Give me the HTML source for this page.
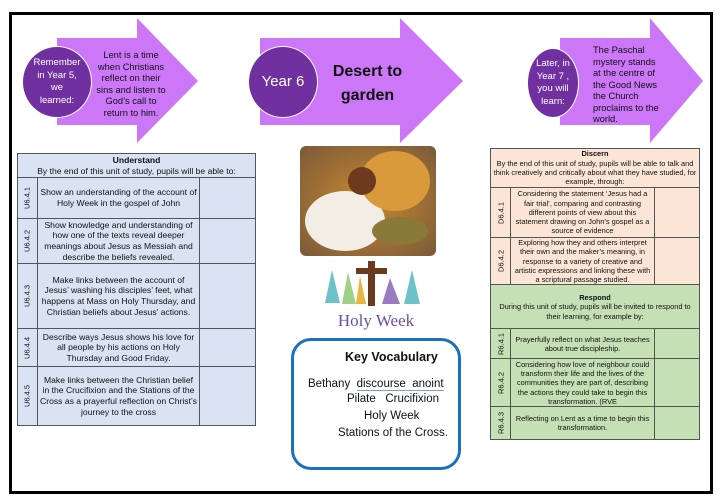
<!DOCTYPE html>
<html><head><meta charset="utf-8"><style>
*{margin:0;padding:0;box-sizing:border-box}
body{width:720px;height:502px;background:#fff;position:relative;overflow:hidden;font-family:"Liberation Sans",sans-serif;color:#111}
.a{position:absolute}
.circ{position:absolute;background:#7030a0;border:1px solid #fff;border-radius:50%;color:#fff;display:flex;align-items:center;justify-content:center;text-align:center;font-size:9.5px;line-height:12.5px}
.t{font-size:9.3px;line-height:11.5px}
table{border-collapse:collapse;position:absolute;font-size:8.6px;line-height:10.6px;text-align:center;table-layout:fixed}
td{border:1px solid #555;padding:0 2px;vertical-align:middle}
.code{padding:0;position:relative}
.code span{position:absolute;left:50%;top:50%;transform:translate(-50%,-50%) rotate(-90deg);white-space:nowrap;font-size:7.5px}
</style></head><body>
<div class="a" style="left:9px;top:12px;width:704px;height:482px;border:3px solid #000"></div>
<svg class="a" style="left:0;top:0" width="720" height="160">
<polygon points="57,38 137,38 137,18 198,81 137,143 137,125 57,125" fill="#cc77f7"/>
<polygon points="260,38 400,38 400,18 463,81 400,143 400,125 260,125" fill="#cc77f7"/>
<polygon points="560,38 650,38 650,18 703,81 650,143 650,125 560,125" fill="#cc77f7"/>
</svg>
<div class="circ" style="left:22px;top:46px;width:70px;height:72px">Remember<br>in Year 5,<br>we<br>learned:</div>
<div class="a t" style="left:94px;top:50px;width:74px;text-align:center">Lent is a time when Christians reflect on their sins and listen to God’s call to return to him.</div>
<div class="circ" style="left:248px;top:46px;width:70px;height:72px;font-size:15px">Year 6</div>
<div class="a" style="left:330px;top:60px;width:75px;text-align:center;font-weight:bold;font-size:16px;line-height:24px">Desert to garden</div>
<div class="circ" style="left:527px;top:48px;width:52px;height:70px;font-size:9.5px">Later, in<br>Year 7 ,<br>you will<br>learn:</div>
<div class="a t" style="left:593px;top:45px;width:72px">The Paschal mystery stands at the centre of the Good News the Church proclaims to the world.</div>

<table style="left:17px;top:153px;width:239px;background:#dae3f3">
<colgroup><col style="width:20px"><col style="width:162px"><col></colgroup>
<tr style="height:24px"><td colspan="3"><b>Understand</b><br>By the end of this unit of study, pupils will be able to:</td></tr>
<tr style="height:41px"><td class="code"><span>U6.4.1</span></td><td>Show an understanding of the account of Holy Week in the gospel of John</td><td></td></tr>
<tr style="height:45px"><td class="code"><span>U6.4.2</span></td><td>Show knowledge and understanding of how one of the texts reveal deeper meanings about Jesus as Messiah and describe the beliefs revealed.</td><td></td></tr>
<tr style="height:65px"><td class="code"><span>U6.4.3</span></td><td>Make links between the account of Jesus’ washing his disciples’ feet, what happens at Mass on Holy Thursday, and Christian beliefs about Jesus’ actions.</td><td></td></tr>
<tr style="height:38px"><td class="code"><span>U6.4.4</span></td><td>Describe ways Jesus shows his love for all people by his actions on Holy Thursday and Good Friday.</td><td></td></tr>
<tr style="height:59px"><td class="code"><span>U6.4.5</span></td><td>Make links between the Christian belief in the Crucifixion and the Stations of the Cross as a prayerful reflection on Christ’s journey to the cross</td><td></td></tr>
</table>

<table style="left:490px;top:148px;width:210px;font-size:7.4px;line-height:9.3px">
<colgroup><col style="width:20px"><col style="width:144px"><col></colgroup>
<tr style="height:39px;background:#fbe5d6"><td colspan="3"><b>Discern</b><br>By the end of this unit of study, pupils will be able to talk and think creatively and critically about what they have studied, for example, through:</td></tr>
<tr style="height:50px;background:#fbe5d6"><td class="code"><span>D6.4.1</span></td><td>Considering the statement ‘Jesus had a fair trial’, comparing and contrasting different points of view about this statement drawing on John’s gospel as a source of evidence</td><td></td></tr>
<tr style="height:46px;background:#fbe5d6"><td class="code"><span>D6.4.2</span></td><td>Exploring how they and others interpret their own and the maker’s meaning, in response to a variety of creative and artistic expressions and linking these with a scriptural passage studied.</td><td></td></tr>
<tr style="height:44px;background:#c5e0b4"><td colspan="3"><b>Respond</b><br>During this unit of study, pupils will be invited to respond to their learning, for example by:</td></tr>
<tr style="height:30px;background:#c5e0b4"><td class="code"><span>R6.4.1</span></td><td>Prayerfully reflect on what Jesus teaches about true discipleship.</td><td></td></tr>
<tr style="height:48px;background:#c5e0b4"><td class="code"><span>R6.4.2</span></td><td>Considering how love of neighbour could transform their life and the lives of the communities they are part of, describing the actions they could take to begin this transformation. (RVE</td><td></td></tr>
<tr style="height:33px;background:#c5e0b4"><td class="code"><span>R6.4.3</span></td><td>Reflecting on Lent as a time to begin this transformation.</td><td></td></tr>
</table>

<svg class="a" style="left:300px;top:146px" width="136" height="110">
<defs><radialGradient id="g" cx="0.5" cy="0.5" r="0.7"><stop offset="0" stop-color="#c9892f"/><stop offset="1" stop-color="#7a5a3a"/></radialGradient></defs>
<rect width="136" height="110" rx="6" fill="url(#g)"/>
<ellipse cx="45" cy="75" rx="40" ry="30" fill="#f2eee6"/>
<ellipse cx="95" cy="35" rx="35" ry="30" fill="#d89a3a"/>
<circle cx="62" cy="35" r="14" fill="#6b3a1f"/>
<ellipse cx="100" cy="85" rx="28" ry="14" fill="#8a7a3a"/>
</svg>
<svg class="a" style="left:320px;top:258px" width="112" height="72">
<rect x="48" y="3" width="7" height="45" fill="#6b3a1f"/><rect x="36" y="10" width="31" height="6" fill="#6b3a1f"/>
<polygon points="5,45 12,12 20,45" fill="#6cc2c8"/><polygon points="22,46 28,14 36,46" fill="#9fd08a"/>
<polygon points="36,46 40,18 46,46" fill="#e8b640"/><polygon points="62,46 70,20 80,46" fill="#9a7ac0"/>
<polygon points="84,46 92,12 100,46" fill="#6cc2c8"/>
<text x="56" y="68" text-anchor="middle" font-family="Liberation Serif,serif" font-size="17" fill="#6a4fa0">Holy Week</text>
</svg>
<div class="a" style="left:291px;top:338px;width:170px;height:132px;border:3px solid #1f6fc0;border-radius:20px"></div>
<div class="a" style="left:345px;top:350px;font-weight:bold;font-size:12.5px">Key Vocabulary</div>
<div class="a" style="left:308px;top:376px;font-size:11.5px;line-height:17px">Bethany &nbsp;<span style="border-bottom:1px solid #7a9be0">discourse &nbsp;anoint</span></div>
<div class="a" style="left:347px;top:393px;font-size:11.5px">Pilate &nbsp;&nbsp;Crucifixion</div>
<div class="a" style="left:364px;top:410px;font-size:11.5px">Holy Week</div>
<div class="a" style="left:338px;top:427px;font-size:11.5px">Stations of the Cross.</div>
</body></html>
